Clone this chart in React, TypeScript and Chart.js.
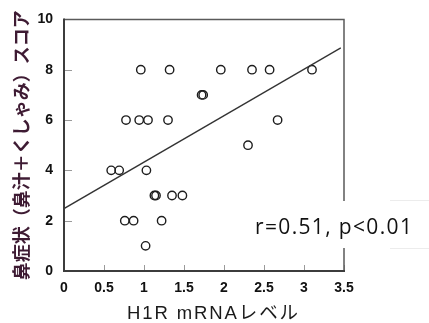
import React, { useEffect, useRef } from "react";
import { Chart, registerables } from "chart.js";

Chart.register(...registerables);

const xValues = [0.96, 1.32, 1.96, 2.35, 2.57, 3.1, 1.72, 1.74, 0.775, 0.94, 1.05, 1.3, 2.67, 2.3, 0.59, 0.69, 1.03, 1.13, 1.15, 1.35, 1.48, 0.76, 0.87, 1.22, 1.02];
const yValues = [8, 8, 8, 8, 8, 8, 7, 7, 6, 6, 6, 6, 6, 5, 4, 4, 4, 3, 3, 3, 3, 2, 2, 2, 1];
const fitX = [0, 3.46];
const fitY = [2.48, 8.87];
const xTickLabels = ["0", "0.5", "1", "1.5", "2", "2.5", "3", "3.5"];
const yTickLabels = ["0", "2", "4", "6", "8", "10"];
const xTitle = "H1R mRNAレベル";
const yTitle = "鼻症状（鼻汁＋くしゃみ）スコア";
const statText = "r=0.51, p<0.01";

const decor = {
  id: "decor",
  afterDraw(chart: any) {
    const ctx = chart.ctx as CanvasRenderingContext2D;
    const { left, right, top, bottom } = chart.chartArea;
    const xs = chart.scales.x;
    const ys = chart.scales.y;
    ctx.save();
    // inward ticks
    ctx.strokeStyle = "#9a9a9a";
    ctx.lineWidth = 1;
    ys.ticks.forEach((t: any) => {
      const py = Math.round(ys.getPixelForValue(t.value)) + 0.5;
      ctx.beginPath();
      ctx.moveTo(left, py);
      ctx.lineTo(left + 8, py);
      ctx.stroke();
    });
    xs.ticks.forEach((t: any) => {
      const px = Math.round(xs.getPixelForValue(t.value)) + 0.5;
      ctx.beginPath();
      ctx.moveTo(px, bottom);
      ctx.lineTo(px, bottom - 6);
      ctx.stroke();
    });
    // frame
    ctx.strokeStyle = "#5a5a5a";
    ctx.lineWidth = 1.5;
    ctx.beginPath();
    ctx.moveTo(left, top);
    ctx.lineTo(right, top);
    ctx.lineTo(right, bottom);
    ctx.stroke();
    ctx.strokeStyle = "#3c3c3c";
    ctx.lineWidth = 2;
    ctx.beginPath();
    ctx.moveTo(left, top - 1);
    ctx.lineTo(left, bottom);
    ctx.lineTo(right + 1, bottom);
    ctx.stroke();
    // annotation box
    ctx.fillStyle = "#ffffff";
    ctx.fillRect(250, 201, 179, 47);
    ctx.strokeStyle = "#ececec";
    ctx.lineWidth = 1;
    ctx.beginPath();
    ctx.moveTo(390, 200.5);
    ctx.lineTo(429, 200.5);
    ctx.moveTo(390, 248.5);
    ctx.lineTo(429, 248.5);
    ctx.stroke();
    ctx.fillStyle = "#111111";
    ctx.font = "21px 'Open Sans'";
    ctx.textBaseline = "alphabetic";
    ctx.textAlign = "left";
    const w0 = ctx.measureText(statText).width;
    (ctx as any).letterSpacing = Math.max(0, (157 - w0) / (statText.length - 1)).toFixed(2) + "px";
    ctx.fillText(statText, 255, 233.5);
    // x title
    (ctx as any).letterSpacing = "0px";
    ctx.font = "18.5px 'Liberation Sans', 'Noto Sans CJK JP'";
    const w1 = ctx.measureText(xTitle).width;
    (ctx as any).letterSpacing = Math.max(0, (171 - w1) / (xTitle.length - 1)).toFixed(2) + "px";
    ctx.fillStyle = "#1a1a1a";
    ctx.fillText(xTitle, 127, 318.5);
    ctx.restore();
  },
};

export default function App() {
  const ref = useRef<HTMLCanvasElement | null>(null);
  useEffect(() => {
    if (!ref.current) return;
    const pts = xValues.map((x, i) => ({ x, y: yValues[i] }));
    const fit = fitX.map((x, i) => ({ x, y: fitY[i] }));
    const tickFont = { family: "'Liberation Sans', Arial, sans-serif", size: 14, weight: "bold" as const };
    const chart = new Chart(ref.current, {
      type: "scatter",
      data: {
        datasets: [
          {
            label: "fit",
            data: fit,
            showLine: true,
            borderColor: "#333333",
            borderWidth: 1.3,
            pointRadius: 0,
            fill: false,
          },
          {
            label: "points",
            data: pts,
            pointStyle: "circle",
            pointRadius: 4.2,
            pointBorderWidth: 1.4,
            borderColor: "#1e1e1e",
            backgroundColor: "rgba(0,0,0,0)",
            showLine: false,
          },
        ],
      },
      options: {
        animation: false,
        responsive: false,
        layout: { padding: { left: 10, top: 18, right: 85, bottom: 3 } },
        plugins: { legend: { display: false }, tooltip: { enabled: false } },
        scales: {
          x: {
            type: "linear",
            min: 0,
            max: 3.5,
            grid: { display: false, drawTicks: false },
            border: { display: false },
            ticks: {
              stepSize: 0.5,
              font: tickFont,
              color: "#111111",
              padding: 9,
              callback: (_v: any, i: number) => xTickLabels[i],
            },
            afterFit(scale: any) {
              scale.height = 49;
            },
          },
          y: {
            type: "linear",
            min: 0,
            max: 10,
            grid: { display: false, drawTicks: false },
            border: { display: false },
            ticks: {
              stepSize: 2,
              font: tickFont,
              color: "#111111",
              padding: 11,
              callback: (_v: any, i: number) => yTickLabels[i],
            },
            title: {
              display: true,
              text: yTitle,
              color: "#3e1b33",
              font: { family: "'Noto Sans CJK JP'", size: 18, weight: "bold" },
              padding: 0,
            },
            afterFit(scale: any) {
              scale.width = 54;
            },
          },
        },
      },
      plugins: [decor],
    });
    return () => chart.destroy();
  }, []);
  return (
    <div style={{ position: "absolute", left: 0, top: 0, width: 429, height: 323, background: "#fff" }}>
      <canvas ref={ref} width={429} height={323} />
    </div>
  );
}
